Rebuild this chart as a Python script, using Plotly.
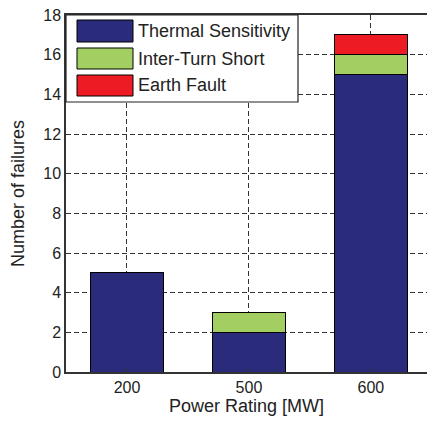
import plotly.graph_objects as go

categories = ["200", "500", "600"]
series_names = ["Thermal Sensitivity", "Inter-Turn Short", "Earth Fault"]
thermal = [5, 2, 15]
inter_turn = [0, 1, 1]
earth_fault = [0, 0, 1]
colors = ["#2B2B7C", "#A3CF62", "#ED1C24"]
y_ticks = [0, 2, 4, 6, 8, 10, 12, 14, 16, 18]

W, H = 427, 425
ml, mr, mt, mb = 66, 0, 15, 53

fig = go.Figure()
for name, vals, col in zip(series_names, [thermal, inter_turn, earth_fault], colors):
    fig.add_trace(go.Bar(
        x=list(range(len(categories))), y=vals, name=name,
        marker=dict(color=col, line=dict(color="black", width=1)),
        width=0.6, showlegend=False, hoverinfo="skip",
    ))

font = "Liberation Sans, Arial, sans-serif"
fig.update_layout(
    width=W, height=H, barmode="stack",
    margin=dict(l=ml, r=mr, t=mt, b=mb, autoexpand=False),
    paper_bgcolor="white", plot_bgcolor="white",
    font=dict(family=font, size=16, color="#222222"),
    xaxis=dict(
        range=[-0.5, 2.46], tickmode="array",
        tickvals=list(range(len(categories))), ticktext=categories,
        showgrid=True, gridcolor="#333333", griddash="5px,3px", gridwidth=1.2,
        showline=True, linecolor="#333333", linewidth=1.5, mirror=True,
        ticks="inside", ticklen=4, tickcolor="#333333", automargin=False,
        title=dict(text="Power Rating [MW]", standoff=4, font=dict(size=18)),
        zeroline=False,
    ),
    yaxis=dict(
        range=[0, 18], tickmode="array", tickvals=y_ticks,
        showgrid=True, gridcolor="#333333", griddash="5px,3px", gridwidth=1.2,
        showline=True, linecolor="#333333", linewidth=1.5, mirror=True,
        ticks="inside", ticklen=4, tickcolor="#333333", automargin=False,
        title=dict(text="Number of failures", standoff=14, font=dict(size=18)),
        zeroline=False,
    ),
)

pw, ph = W - ml - mr, H - mt - mb
def px(x):
    return (x - ml) / pw
def py(y):
    return 1 - (y - mt) / ph

fig.add_shape(type="rect", xref="paper", yref="paper",
              x0=px(66), x1=px(298), y0=py(102), y1=py(15),
              fillcolor="white", line=dict(color="#222222", width=1.2), layer="above")
swatch_rows = [(20, 42), (48, 69), (75, 96)]
for (y0, y1), name, col in zip(swatch_rows, series_names, colors):
    fig.add_shape(type="rect", xref="paper", yref="paper",
                  x0=px(77), x1=px(133), y0=py(y1), y1=py(y0),
                  fillcolor=col, line=dict(color="black", width=1), layer="above")
    fig.add_annotation(xref="paper", yref="paper", x=px(136), y=py((y0 + y1) / 2),
                       text=name, showarrow=False, xanchor="left", yanchor="middle",
                       font=dict(size=18, color="#222222", family=font))

fig.write_html("out.html", config={"displayModeBar": False},
               post_script="document.body.style.margin='0';document.body.style.overflow='hidden';")
